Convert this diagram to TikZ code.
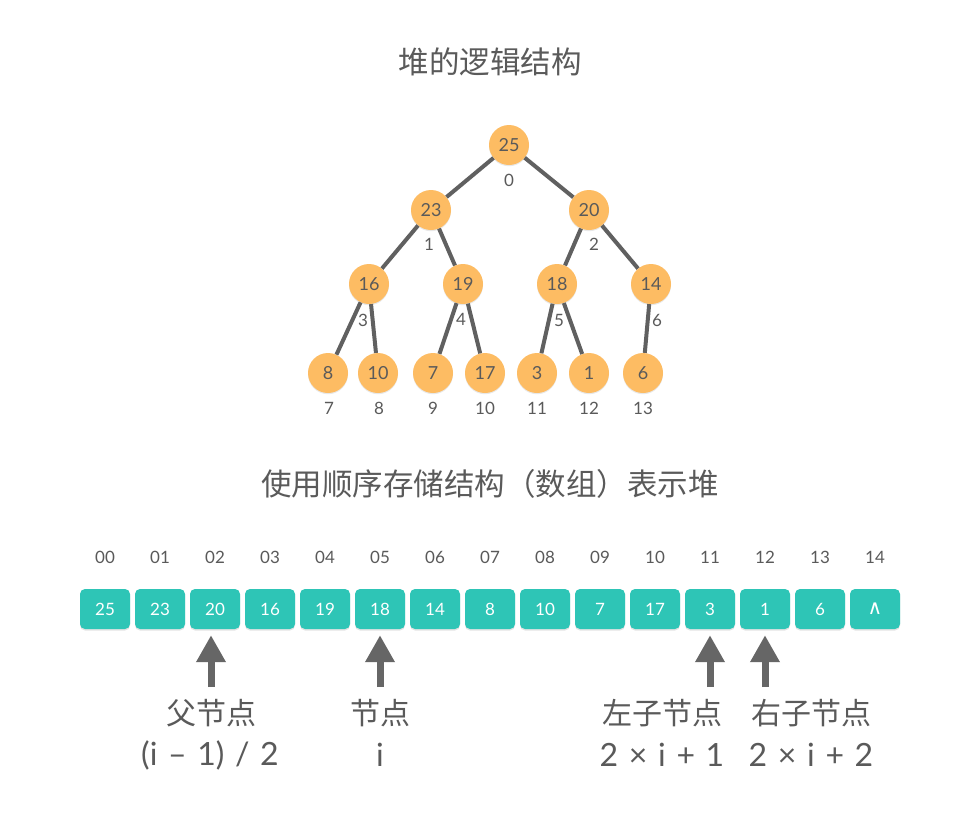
\documentclass[tikz,border=0pt]{standalone}
\usepackage{fontspec}
\setmainfont{Lato}
\newfontfamily\cjk{Noto Sans CJK SC}
\newfontfamily\dejavu{DejaVu Sans}
\usetikzlibrary{arrows.meta,shadows}
\definecolor{tc}{HTML}{5A5A5A}
\definecolor{hO}{HTML}{FDBC63}
\definecolor{teal}{HTML}{2EC5B6}
\definecolor{eg}{HTML}{606060}
\definecolor{ac}{HTML}{666666}
\begin{document}
\begin{tikzpicture}[x=1pt,y=-1pt,
  heap/.style={circle, fill=hO, minimum size=40pt, inner sep=0pt, text=tc,
    font=\fontsize{18}{18}\selectfont,
    drop shadow={opacity=.18, shadow xshift=0pt, shadow yshift=-1.2pt}},
  idx/.style={text=tc, font=\fontsize{17}{17}\selectfont},
  cell/.style={rounded corners=5pt, fill=teal, minimum width=50pt, minimum height=40pt,
    inner sep=0pt, text=white, font=\fontsize{17}{17}\selectfont,
    drop shadow={opacity=.22, shadow xshift=0pt, shadow yshift=-1.5pt}},
  link/.style={draw=eg, line width=4pt},
  title/.style={text=tc, font=\cjk\fontsize{30.5}{30.5}\selectfont},
  lab/.style={text=tc, font=\cjk\fontsize{30}{30}\selectfont},
  form/.style={text=tc, font=\fontsize{32}{32}\selectfont},
  arr/.style={draw=ac, line width=7pt, -{Triangle[width=28pt,length=27pt]}, shorten >=6pt}
]
\useasboundingbox[fill=white] (0,0) rectangle (980,817);

\node[title] (t1) at (490,62) {堆的逻辑结构};
\node[title] (t2) at (490,484) {使用顺序存储结构（数组）表示堆};

% tree
\node[heap] (n0) at (509,145) {25};
\node[heap] (n1) at (431,210) {23};
\node[heap] (n2) at (589,210) {20};
\node[heap] (n3) at (369,284) {16};
\node[heap] (n4) at (463,284) {19};
\node[heap] (n5) at (557,284) {18};
\node[heap] (n6) at (651,284) {14};
\node[heap] (n7) at (328,373) {8};
\node[heap] (n8) at (378,373) {10};
\node[heap] (n9) at (433,373) {7};
\node[heap] (n10) at (485,373) {17};
\node[heap] (n11) at (537,373) {3};
\node[heap] (n12) at (589,373) {1};
\node[heap] (n13) at (643,373) {6};

\draw[link] (n0) -- (n1);
\draw[link] (n0) -- (n2);
\draw[link] (n1) -- (n3);
\draw[link] (n1) -- (n4);
\draw[link] (n2) -- (n5);
\draw[link] (n2) -- (n6);
\draw[link] (n3) -- (n7);
\draw[link] (n3) -- (n8);
\draw[link] (n4) -- (n9);
\draw[link] (n4) -- (n10);
\draw[link] (n5) -- (n11);
\draw[link] (n5) -- (n12);
\draw[link] (n6) -- (n13);

\node[idx] (i0) at (509,180) {0};
\node[idx] (i1) at (429,244) {1};
\node[idx] (i2) at (594,244) {2};
\node[idx] (i3) at (363,320) {3};
\node[idx] (i4) at (461,319) {4};
\node[idx] (i5) at (559,320) {5};
\node[idx] (i6) at (657,320) {6};
\node[idx] (i7) at (329,408) {7};
\node[idx] (i8) at (379,408) {8};
\node[idx] (i9) at (433,408) {9};
\node[idx] (i10) at (485,408) {10};
\node[idx] (i11) at (537,408) {11};
\node[idx] (i12) at (589,408) {12};
\node[idx] (i13) at (643,408) {13};

% array
\foreach \v [count=\k from 0] in {25,23,20,16,19,18,14,8,10,7,17,3,1,6,{\dejavu\fontsize{20}{20}\selectfont ∧}} {
  \node[cell] (b\k) at ({105+55*\k},609) {\v};
}
\foreach \s [count=\k from 0] in {00,01,02,03,04,05,06,07,08,09,10,11,12,13,14} {
  \node[idx] (h\k) at ({105+55*\k},557) {\s};
}

% arrows
\coordinate (a2) at (211,687);
\coordinate (a5) at (380,687);
\coordinate (a11) at (710,687);
\coordinate (a12) at (765,687);
\draw[arr] (a2) -- (a2 |- b2.south);
\draw[arr] (a5) -- (b5);
\draw[arr] (a11) -- (b11);
\draw[arr] (a12) -- (b12);

\node[lab] (l1) at (211,713) {父节点};
\node[form] (f1) at (210,755) {(i\,\,–\,\,1)\,\,/\,\,2};
\node[lab] (l2) at (380,713) {节点};
\node[form] (f2) at (380,755) {i};
\node[lab] (l3) at (662,713) {左子节点};
\node[form] (f3) at (662,755) {2\,\,×\,\,i\,\,+\,\,1};
\node[lab] (l4) at (811,713) {右子节点};
\node[form] (f4) at (811,755) {2\,\,×\,\,i\,\,+\,\,2};
\end{tikzpicture}
\end{document}
